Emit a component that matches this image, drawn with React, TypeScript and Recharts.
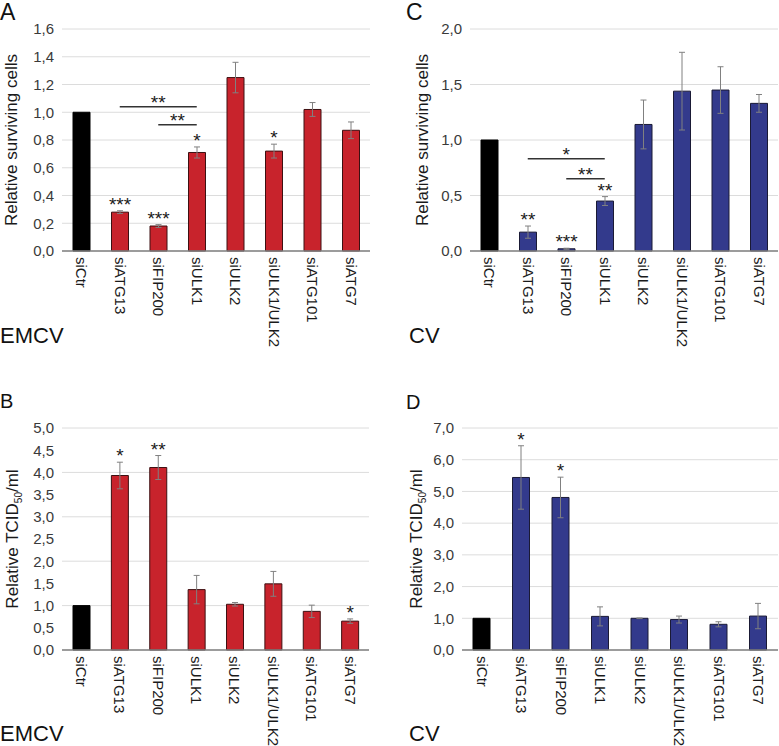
import React from "react";
import {
  BarChart,
  Bar,
  XAxis,
  YAxis,
  CartesianGrid,
  ErrorBar,
  Cell,
  LabelList,
  ReferenceLine,
} from "recharts";

const categories = [
  "siCtr",
  "siATG13",
  "siFIP200",
  "siULK1",
  "siULK2",
  "siULK1/ULK2",
  "siATG101",
  "siATG7",
];

// A - surviving cells, EMCV
const survivalEmcv = [1.0, 0.28, 0.18, 0.71, 1.25, 0.72, 1.02, 0.87];
const survivalEmcvErr = [0, 0.01, 0.01, 0.04, 0.11, 0.05, 0.05, 0.06];
const survivalEmcvStars = ["", "***", "***", "*", "", "*", "", ""];
const survivalEmcvBrackets = [
  { from: "siATG13", to: "siULK1", y: 1.04, label: "**" },
  { from: "siFIP200", to: "siULK1", y: 0.91, label: "**" },
];

// C - surviving cells, CV
const survivalCv = [1.0, 0.17, 0.02, 0.45, 1.14, 1.44, 1.45, 1.33];
const survivalCvErr = [0, 0.055, 0.005, 0.04, 0.22, 0.35, 0.21, 0.08];
const survivalCvStars = ["", "**", "***", "**", "", "", "", ""];
const survivalCvBrackets = [
  { from: "siATG13", to: "siULK1", y: 0.83, label: "*" },
  { from: "siFIP200", to: "siULK1", y: 0.65, label: "**" },
];

// B - TCID50, EMCV
const titerEmcv = [1.0, 3.93, 4.11, 1.36, 1.03, 1.49, 0.87, 0.65];
const titerEmcvErr = [0, 0.3, 0.27, 0.32, 0.04, 0.28, 0.14, 0.05];
const titerEmcvStars = ["", "*", "**", "", "", "", "", "*"];

// D - TCID50, CV
const titerCv = [1.0, 5.44, 4.81, 1.06, 1.0, 0.96, 0.81, 1.07];
const titerCvErr = [0, 1.0, 0.64, 0.3, 0.01, 0.11, 0.08, 0.4];
const titerCvStars = ["", "*", "*", "", "", "", "", ""];

const ticksA = [0, 0.2, 0.4, 0.6, 0.8, 1.0, 1.2, 1.4, 1.6];
const ticksC = [0, 0.5, 1.0, 1.5, 2.0];
const ticksB = [0, 0.5, 1.0, 1.5, 2.0, 2.5, 3.0, 3.5, 4.0, 4.5, 5.0];
const ticksD = [0, 1, 2, 3, 4, 5, 6, 7];

const FONT = "'Liberation Sans', Arial, sans-serif";
const RED = "#c8232c";
const RED_EDGE = "#3d1012";
const BLUE = "#333a8c";
const BLUE_EDGE = "#1a1a35";

const fmt = (v: number) => v.toFixed(1).replace(".", ",");

const XTick = (props: any) => {
  const { x, y, payload } = props;
  return (
    <g transform={`translate(${x},${y})`}>
      <text
        transform="rotate(90)"
        x={0}
        y={0}
        dy="0.35em"
        textAnchor="start"
        fontSize={15}
        fontFamily={FONT}
        fill="#1a1a1a"
      >
        {payload.value}
      </text>
    </g>
  );
};

const makeYTitle = (offsetX: number, tcid: boolean) => (props: any) => {
  const vb = props.viewBox || {};
  const cx = (vb.x || 0) + offsetX;
  const cy = (vb.y || 0) + (vb.height || 0) / 2;
  return (
    <text
      transform={`translate(${cx},${cy}) rotate(-90)`}
      textAnchor="middle"
      dy="0.35em"
      fontSize={17}
      fontFamily={FONT}
      fill="#1a1a1a"
    >
      {tcid ? (
        <>
          Relative TCID
          <tspan dy={4} fontSize={10}>
            50
          </tspan>
          <tspan dy={-4}>/ml</tspan>
        </>
      ) : (
        "Relative surviving cells"
      )}
    </text>
  );
};

const makeStarLabel = (stars: string[], errs: number[]) => (p: any) => {
  const vb = p.viewBox || {};
  const x = p.x ?? vb.x;
  const y = p.y ?? vb.y;
  const width = p.width ?? vb.width;
  const height = p.height ?? vb.height;
  const idx = p.index;
  const s = stars[idx];
  if (!s) return null;
  const v = Number(p.value);
  const errPx = v > 0 ? (errs[idx] * height) / v : 0;
  const top = y - errPx;
  return (
    <text
      x={x + width / 2}
      y={top}
      textAnchor="middle"
      fontSize={19}
      fontFamily={FONT}
      fill="#1a1a1a"
    >
      {s}
    </text>
  );
};

const bracketLabel = (text: string) => (p: any) => {
  const vb = p.viewBox || {};
  const cx = (vb.x || 0) + (vb.width || 0) / 2;
  const cy = vb.y || 0;
  return (
    <text
      x={cx}
      y={cy + 2}
      textAnchor="middle"
      fontSize={19}
      fontFamily={FONT}
      fill="#1a1a1a"
    >
      {text}
    </text>
  );
};

type PanelProps = {
  values: number[];
  errs: number[];
  stars: string[];
  brackets?: { from: string; to: string; y: number; label: string }[];
  ticks: number[];
  color: string;
  edge: string;
  width: number;
  height: number;
  marginTop: number;
  marginRight: number;
  yAxisWidth: number;
  xAxisHeight: number;
  titleX: number;
  tcid: boolean;
};

const Panel = ({
  values,
  errs,
  stars,
  brackets = [],
  ticks,
  color,
  edge,
  width,
  height,
  marginTop,
  marginRight,
  yAxisWidth,
  xAxisHeight,
  titleX,
  tcid,
}: PanelProps) => {
  const data = categories.map((name, i) => ({
    name,
    value: values[i],
    err: errs[i],
  }));
  return (
    <BarChart
      width={width}
      height={height}
      data={data}
      margin={{ top: marginTop, right: marginRight, bottom: 0, left: 0 }}
      barSize={17}
    >
      <CartesianGrid vertical={false} stroke="#dcdcdc" />
      <XAxis
        dataKey="name"
        interval={0}
        height={xAxisHeight}
        tickLine={false}
        tickMargin={0}
        tick={<XTick />}
        axisLine={{ stroke: "#808080", strokeWidth: 1.5 }}
      />
      <YAxis
        width={yAxisWidth}
        domain={[ticks[0], ticks[ticks.length - 1]]}
        ticks={ticks}
        tickFormatter={fmt}
        axisLine={false}
        tickLine={false}
        tick={{ fontSize: 15, fontFamily: FONT, fill: "#3a3a3a" }}
        label={makeYTitle(titleX, tcid)}
      />
      <Bar dataKey="value" isAnimationActive={false} stroke={edge} strokeWidth={1}>
        {data.map((_, i) => (
          <Cell
            key={`cell-${i}`}
            fill={i === 0 ? "#000000" : color}
            stroke={i === 0 ? "#000000" : edge}
          />
        ))}
        <ErrorBar
          dataKey="err"
          width={3}
          stroke="#808080"
          strokeWidth={1}
          isAnimationActive={false}
        />
        <LabelList dataKey="value" content={makeStarLabel(stars, errs)} />
      </Bar>
      {brackets.map((b, i) => (
        <ReferenceLine
          key={`br-${i}`}
          segment={[
            { x: b.from, y: b.y },
            { x: b.to, y: b.y },
          ]}
          stroke="#333333"
          strokeWidth={1.5}
          label={bracketLabel(b.label)}
        />
      ))}
    </BarChart>
  );
};

const bigText: React.CSSProperties = {
  position: "absolute",
  fontFamily: FONT,
  color: "#111",
  lineHeight: 1,
};

export default function App() {
  return (
    <div
      style={{
        position: "absolute",
        left: 0,
        top: 0,
        width: 779,
        height: 746,
        background: "#fff",
        overflow: "hidden",
      }}
    >
      <div style={{ position: "absolute", left: 0, top: 0 }}>
        <Panel
          values={survivalEmcv}
          errs={survivalEmcvErr}
          stars={survivalEmcvStars}
          brackets={survivalEmcvBrackets}
          ticks={ticksA}
          color={RED}
          edge={RED_EDGE}
          width={390}
          height={370}
          marginTop={29}
          marginRight={20}
          yAxisWidth={62}
          xAxisHeight={119}
          titleX={11}
          tcid={false}
        />
      </div>
      <div style={{ position: "absolute", left: 390, top: 0 }}>
        <Panel
          values={survivalCv}
          errs={survivalCvErr}
          stars={survivalCvStars}
          brackets={survivalCvBrackets}
          ticks={ticksC}
          color={BLUE}
          edge={BLUE_EDGE}
          width={389}
          height={370}
          marginTop={29}
          marginRight={1}
          yAxisWidth={80}
          xAxisHeight={119}
          titleX={32}
          tcid={false}
        />
      </div>
      <div style={{ position: "absolute", left: 0, top: 370 }}>
        <Panel
          values={titerEmcv}
          errs={titerEmcvErr}
          stars={titerEmcvStars}
          ticks={ticksB}
          color={RED}
          edge={RED_EDGE}
          width={390}
          height={376}
          marginTop={58}
          marginRight={21}
          yAxisWidth={62}
          xAxisHeight={96}
          titleX={12}
          tcid={true}
        />
      </div>
      <div style={{ position: "absolute", left: 390, top: 370 }}>
        <Panel
          values={titerCv}
          errs={titerCvErr}
          stars={titerCvStars}
          ticks={ticksD}
          color={BLUE}
          edge={BLUE_EDGE}
          width={389}
          height={376}
          marginTop={58}
          marginRight={1}
          yAxisWidth={72}
          xAxisHeight={96}
          titleX={26}
          tcid={true}
        />
      </div>

      <div style={{ ...bigText, left: 0, top: 1, fontSize: 23 }}>A</div>
      <div style={{ ...bigText, left: 406, top: 1, fontSize: 23 }}>C</div>
      <div style={{ ...bigText, left: 0, top: 391, fontSize: 20 }}>B</div>
      <div style={{ ...bigText, left: 406, top: 392, fontSize: 20 }}>D</div>

      <div style={{ ...bigText, left: 0, top: 325, fontSize: 22 }}>EMCV</div>
      <div style={{ ...bigText, left: 409, top: 325, fontSize: 22 }}>CV</div>
      <div style={{ ...bigText, left: 0, top: 723, fontSize: 22 }}>EMCV</div>
      <div style={{ ...bigText, left: 409, top: 723, fontSize: 22 }}>CV</div>
    </div>
  );
}
